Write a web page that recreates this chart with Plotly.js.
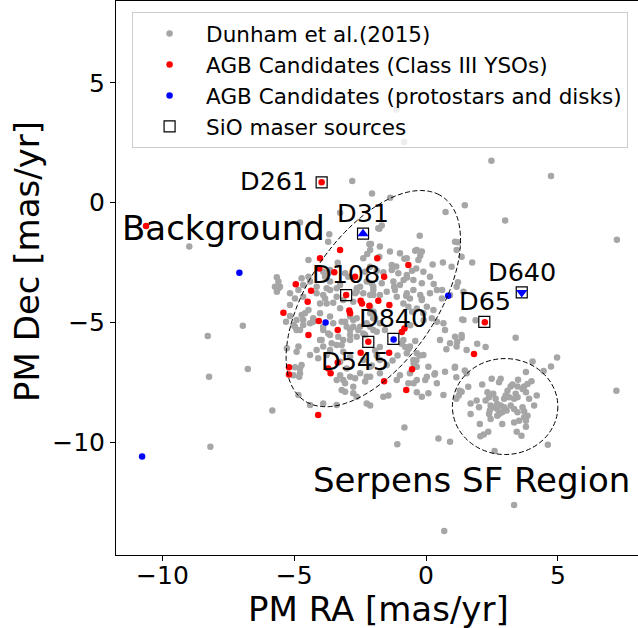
<!DOCTYPE html>
<html><head><meta charset="utf-8">
<script src="https://cdn.plot.ly/plotly-3.0.1.min.js"></script>
<style>html,body{margin:0;padding:0;background:#fff}</style>
</head><body><div id="chart" style="width:638px;height:628px"></div>
<script>
// Dunham et al.(2015) sample (PM RA, PM Dec in mas/yr)
const dunhamX = [
-1.12,-0.83,
2.48,4.74,-2.05,-1.36,1.47,0.74,3.00,7.24,-1.68,-1.77,-0.24,1.21,-0.41,-0.16,-0.22,-2.09,-1.77,-0.82,-1.30,-1.13,-0.37,-0.53,0.25,0.64,1.75,-1.62,-0.72,-0.85,0.29,1.21,-1.21,
-2.80,-3.26,-4.78,-1.81,-8.98,-3.67,-3.71,-2.12,-2.23,-2.38,-4.46,-3.35,-3.71,-3.90,-3.07,-2.95,-5.66,-5.60,-4.46,-4.40,-4.15,-3.77,-3.39,-2.50,-2.25,-2.00,-2.31,-2.12,-1.87,
-0.75,-0.22,-0.16,0.61,-2.06,-1.68,-2.12,-1.99,-0.53,-0.35,1.37,1.88,-0.09,-0.60,3.40,1.35,1.18,1.94,2.26,0.77,-0.79,-0.66,-0.92,-0.41,-1.75,-1.93,-1.87,-1.08,-1.27,-0.24,-0.47,-0.37,-2.06,1.09,1.47,4.04,4.46,4.97,4.74,1.15,0.32,-0.03,-0.47,-1.43,-1.62,-0.35,-2.12,-0.82,7.22,
2.13,2.49,2.83,2.77,3.79,4.00,3.49,3.72,3.85,3.66,3.47,3.21,3.28,3.09,3.02,3.15,2.96,3.40,3.47,3.34,3.79,3.91,4.20,4.10,2.33,2.39,2.55,2.64,2.26,1.92,1.69,2.01,2.45,2.42,2.60,2.70,2.83,2.96,3.06,2.89,2.77,2.70,3.21,3.34,3.47,3.66,3.72,3.85,3.72,3.79,3.53,2.70,2.39,2.45,1.69,2.04,2.89,3.34,3.79,1.24,1.15,1.28,
-8.18,-1.09,0.47,0.91,2.36,2.06,2.19,3.44,3.62,2.60,4.62,3.34,0.69,
-6.95,-8.28,-6.76,-8.23,-5.83,-5.54,-5.66,-5.16,-5.31,-4.97,-4.78,-4.91,-4.59,-4.66,-4.40,-4.28,-4.15,-3.90,-3.77,-3.52,-3.26,-3.14,-2.63,-2.76,-2.38,-2.00,-2.12,-3.90,-3.64,-4.02,-3.90,-3.64,-3.39,-3.14,-2.88,-2.57,-2.63,-2.38,-4.84,-4.91,-4.72,-4.97,-4.78,-5.28,-5.03,-4.81,-4.15,-4.09,-3.77,-3.14,-2.88,-3.26,-3.01,-2.88,-3.14,-3.39,-2.76,-3.07,-2.63,-2.25,-4.84,-4.40,-3.90,-3.39,-3.07,-2.76,-2.63,-2.88,-2.25,-2.00,-1.93,-4.40,-2.38,-2.12,-2.25,
-2.15,-1.75,-1.37,-0.99,-0.73,-0.35,-0.29,1.10,1.16,1.35,0.97,-0.10,0.15,-0.48,-0.73,-0.16,-1.30,-1.05,-1.24,-0.99,-1.18,0.41,0.15,0.60,0.91,1.16,1.42,-0.16,0.03,0.28,-0.10,0.22,0.41,0.66,-0.61,-0.48,-0.73,-0.86,-0.67,-1.11,-1.49,-1.75,-2.00,-2.63,-2.69,-2.12,-3.64,-3.83,-3.64,-3.26,-3.64,-3.39,-3.83,-4.02,-4.72,-4.66,-4.84,-4.66,-5.16,-4.97,-5.16,-5.60,-5.73,-4.02,-3.64,-4.28,-3.90,-3.52,-3.20,-3.01,-3.33,-3.71,-3.96,-3.58,-3.20,-2.88,-2.50,-2.76,-2.88,-2.00,-1.75,-1.56,-1.87,-2.12,-2.31,-0.86,-0.61,-0.73,-0.35,-0.48,-0.10,0.09,-0.35,-0.61,-0.99,-1.11,-0.67,-0.35,0.03,-1.75,-1.49,-1.75,-2.12,-2.50,-2.69,-2.31,-2.76,-3.26,-3.07,-3.20,-4.78,-5.03,-4.91,-4.72,-4.46,-4.66,0.72,0.53,0.91,1.10,1.16,1.42,1.35,1.54,1.10,1.54,0.72,0.34,0.41,0.66,0.09,-0.16,1.35,1.60
];
const dunhamY = [
3.89,2.53,
1.75,1.11,0.38,0.21,-0.11,-0.39,-0.74,-1.55,-0.95,-1.09,-1.38,-1.65,-2.00,-2.04,-2.21,-1.72,-2.25,-2.34,-2.60,-2.66,-2.74,-2.84,-2.58,-2.49,-2.49,-2.90,-3.12,-3.22,-3.39,-3.32,-3.50,
0.90,-0.42,-0.83,-1.07,-1.83,-1.32,-1.63,-1.97,-2.14,-2.32,-2.39,-2.50,-2.94,-2.88,-2.94,-3.09,-3.11,-3.57,-3.09,-3.29,-3.50,-3.57,-3.57,-3.50,-3.29,-3.50,-2.88,-2.67,-2.84,
-3.89,-3.85,-3.99,-3.64,-3.36,-3.36,-4.34,-4.55,-4.55,-4.41,-4.87,-4.90,-4.90,-5.11,-5.63,-5.63,-5.81,-5.88,-6.02,-6.11,-6.02,-6.09,-5.88,-5.77,-6.02,-6.16,-6.37,-6.37,-6.58,-6.37,-6.72,-6.58,-6.79,-6.88,-7.00,-6.62,-7.02,-6.46,-6.83,-7.28,-7.16,-7.39,-7.53,-8.04,-8.09,-7.90,-8.46,-9.37,-7.84,
-7.58,-7.34,-7.34,-7.49,-7.06,-7.44,-7.38,-7.66,-7.56,-7.77,-7.66,-7.66,-7.58,-7.84,-8.04,-8.11,-8.18,-7.97,-8.11,-8.18,-7.90,-8.18,-8.04,-8.46,-7.90,-8.11,-7.97,-8.18,-8.25,-8.25,-8.37,-8.53,-8.46,-8.67,-8.53,-8.39,-8.46,-8.53,-8.67,-8.74,-8.81,-8.60,-8.46,-8.60,-8.74,-8.53,-8.70,-8.88,-8.95,-9.09,-9.09,-8.88,-8.81,-9.02,-8.81,-9.23,-9.23,-9.16,-9.34,-8.04,-8.18,-7.84,
-10.18,-10.07,-9.83,-9.97,-9.55,-9.74,-9.67,-9.55,-9.72,-10.35,-10.09,-12.60,-13.69,
-5.13,-5.56,-6.93,-7.26,-8.67,-3.50,-3.71,-4.72,-4.96,-5.17,-5.31,-4.89,-4.61,-5.10,-5.03,-4.82,-3.78,-3.85,-4.20,-4.17,-4.40,-4.06,-3.71,-4.13,-3.78,-3.85,-4.61,-5.31,-5.52,-5.73,-6.00,-6.14,-5.93,-5.73,-5.52,-5.31,-5.59,-5.45,-6.00,-6.21,-6.77,-6.86,-6.91,-6.07,-7.19,-7.26,-6.14,-6.49,-6.35,-6.21,-6.42,-6.63,-6.91,-7.26,-7.39,-7.39,-7.95,-7.88,-8.09,-8.37,-8.02,-8.44,-8.37,-8.44,-4.96,-5.17,-4.82,-4.75,-5.03,-5.31,-4.82,-6.35,-6.56,-6.84,-7.26,
-1.72,-1.83,-2.04,-2.11,-2.32,-1.97,-2.39,-1.63,-1.97,-2.25,-2.67,-2.88,-3.09,-3.22,-3.02,-3.36,-2.81,-2.94,-3.29,-3.43,-3.64,-3.64,-3.78,-3.99,-3.85,-3.50,-3.71,-4.06,-4.34,-4.47,-4.61,-4.82,-4.96,-5.03,-3.99,-3.64,-3.78,-4.20,-4.34,-3.92,-3.71,-3.85,-3.64,-3.57,-3.78,-3.85,-2.81,-3.09,-3.29,-3.43,-3.64,-3.92,-3.99,-4.20,-3.15,-3.43,-3.64,-3.92,-3.78,-3.99,-4.27,-3.29,-3.50,-4.61,-4.75,-4.96,-5.17,-5.03,-4.96,-5.17,-5.59,-5.45,-5.73,-5.86,-5.93,-5.73,-5.17,-4.89,-5.31,-4.82,-5.03,-5.31,-5.38,-5.17,-5.52,-5.73,-6.00,-6.28,-6.28,-6.56,-6.35,-6.84,-6.84,-7.11,-7.19,-7.39,-7.53,-7.39,-7.26,-6.56,-6.77,-7.11,-7.26,-7.11,-7.32,-7.46,-7.67,-7.19,-7.53,-7.81,-7.11,-5.10,-5.31,-4.68,-4.47,-4.89,-5.31,-5.73,-5.86,-5.59,-6.00,-4.89,-5.52,-6.14,-6.84,-7.11,-7.05,-7.11,-7.53,-8.02,-7.95,-8.09,-7.88,-7.67
];
// AGB candidates (Class III YSOs)
const agbClassIIIX = [-10.62,-3.26,-4.02,-4.05,-3.48,-3.03,-1.59,-1.85,-0.67,-4.94,-4.36,-4.49,-2.48,-2.43,-2.91,-2.88,-2.15,-1.81,-1.39,-5.41,-4.07,-3.35,-4.46,-2.19,-2.48,-3.35,-3.71,-3.62,-5.20,-5.20,-4.09,-0.82,-0.92,-1.40,-0.53,-1.59,-0.75,2.23,1.82,-3.96,-2.69];
const agbClassIIIY = [-0.97,-1.97,-2.32,-2.74,-2.90,-3.85,-3.09,-2.32,-2.60,-3.40,-3.67,-4.13,-4.09,-4.20,-4.50,-4.61,-4.30,-4.09,-4.27,-4.59,-4.93,-5.31,-5.52,-5.80,-6.26,-6.66,-6.91,-7.11,-6.86,-7.16,-8.85,-5.25,-5.39,-6.26,-6.95,-7.44,-7.81,-4.98,-6.31,0.85,-3.09];
// AGB candidates (protostars and disks)
const agbProtoX = [-7.08,-3.81,0.84,-1.23,-10.77];
const agbProtoY = [-2.92,-5.00,-3.88,-5.70,-10.58];
const protoUpX = [-2.39], protoUpY = [-1.29];
const protoDownX = [3.63], protoDownY = [-3.74];
// SiO maser sources
const maserNames = ['D261','D31','D108','D545','D840','D65','D640'];
const maserX = [-3.96,-2.39,-3.03,-2.19,-1.24,2.21,3.63];
const maserY = [0.85,-1.29,-3.85,-5.80,-5.68,-4.97,-3.74];
// label placement (data coords)
const labelX = [-5.77,-2.41,-3.03,-2.71,-1.24,2.23,3.64];
const labelY = [0.90,-0.41,-2.97,-6.59,-4.80,-4.10,-2.87];
const regionNames = ['Background','Serpens SF Region'];
const regionX = [-7.70,1.71];
const regionY = [-1.05,-11.57];
// region outlines
const bgEllipse = {cx:-2, cy:-4, w:10, h:5, angle:60};
const sfCircle = {cx:3, cy:-8.5, r:2};

function ellipsePath(e, n){
  const a = e.angle*Math.PI/180; let p='';
  for(let i=0;i<=n;i++){
    const t=2*Math.PI*i/n, dx=e.w/2*Math.cos(t), dy=e.h/2*Math.sin(t);
    const x=e.cx+dx*Math.cos(a)-dy*Math.sin(a), y=e.cy+dx*Math.sin(a)+dy*Math.cos(a);
    p += (i?'L':'M')+x.toFixed(4)+','+y.toFixed(4);
  }
  return p+'Z';
}
const F = 'DejaVu Sans';
const traces = [
  {x:dunhamX,y:dunhamY,mode:'markers',type:'scatter',name:'Dunham et al.(2015)',legendgroup:'a',
   marker:{color:'#a6a6a6',size:6.5}},
  {x:agbClassIIIX,y:agbClassIIIY,mode:'markers',type:'scatter',name:'AGB Candidates (Class III YSOs)',legendgroup:'b',
   marker:{color:'#ff0000',size:6.5}},
  {x:agbProtoX,y:agbProtoY,mode:'markers',type:'scatter',name:'AGB Candidates (protostars and disks)',legendgroup:'c',
   marker:{color:'#0000ff',size:6.5}},
  {x:maserX,y:maserY,mode:'markers',type:'scatter',name:'SiO maser sources',legendgroup:'d',text:maserNames,
   marker:{symbol:'square-open',color:'#000',size:11,line:{width:1.2}}},
  {x:protoUpX,y:protoUpY,mode:'markers',type:'scatter',showlegend:false,
   marker:{symbol:'triangle-up',color:'#0000ff',size:10}},
  {x:protoDownX,y:protoDownY,mode:'markers',type:'scatter',showlegend:false,
   marker:{symbol:'triangle-down',color:'#0000ff',size:10}}
];
const annotations = [];
maserNames.forEach((n,i)=>annotations.push({x:labelX[i],y:labelY[i],xref:'x',yref:'y',text:n,showarrow:false,
  xanchor:'center',yanchor:'middle',font:{family:F,size:25.5,color:'#000'}}));
regionNames.forEach((n,i)=>annotations.push({x:regionX[i],y:regionY[i],xref:'x',yref:'y',text:n,showarrow:false,
  xanchor:'center',yanchor:'middle',font:{family:F,size:34,color:'#000'}}));
// axis titles
annotations.push({x:0.503,y:-0.0975,xref:'paper',yref:'paper',text:'PM RA [mas/yr]',showarrow:false,
  xanchor:'center',yanchor:'middle',font:{family:F,size:34,color:'#000'}});
annotations.push({x:-0.1695,y:0.530,xref:'paper',yref:'paper',text:'PM Dec [mas/yr]',showarrow:false,textangle:-90,
  xanchor:'center',yanchor:'middle',font:{family:F,size:34,color:'#000'}});
const layout = {
  width:638,height:628,margin:{l:116,r:0,t:1,b:73},
  paper_bgcolor:'#fff',plot_bgcolor:'#fff',
  font:{family:F,color:'#000'},
  xaxis:{range:[-11.76,8.04],showgrid:false,zeroline:false,showline:true,mirror:true,linecolor:'#000',linewidth:1,
    ticks:'outside',ticklen:5,tickwidth:1,tickcolor:'#000',dtick:5,tick0:0,ticklabelstandoff:-7,
    tickfont:{family:F,size:25,color:'#000'},automargin:false},
  yaxis:{range:[-14.69,8.41],showgrid:false,zeroline:false,showline:true,mirror:false,linecolor:'#000',linewidth:1,
    ticks:'outside',ticklen:5,tickwidth:1,tickcolor:'#000',dtick:5,tick0:0,
    tickfont:{family:F,size:25,color:'#000'},automargin:false},
  legend:{x:0.981,xanchor:'right',y:0.980,yanchor:'top',bgcolor:'rgba(255,255,255,0.8)',bordercolor:'#cccccc',borderwidth:1,
    font:{family:F,size:21.5,color:'#000'},tracegroupgap:0,itemwidth:63},
  shapes:[
    {type:'path',xref:'x',yref:'y',path:ellipsePath(bgEllipse,200),line:{color:'#000',width:1,dash:'5px,2.5px'}},
    {type:'circle',xref:'x',yref:'y',x0:sfCircle.cx-sfCircle.r,x1:sfCircle.cx+sfCircle.r,y0:sfCircle.cy-sfCircle.r,y1:sfCircle.cy+sfCircle.r,
     line:{color:'#000',width:1,dash:'5px,2.5px'}}
  ],
  annotations:annotations,
  showlegend:true
};
Plotly.newPlot('chart',traces,layout,{displayModeBar:false,staticPlot:true});
</script></body></html>
